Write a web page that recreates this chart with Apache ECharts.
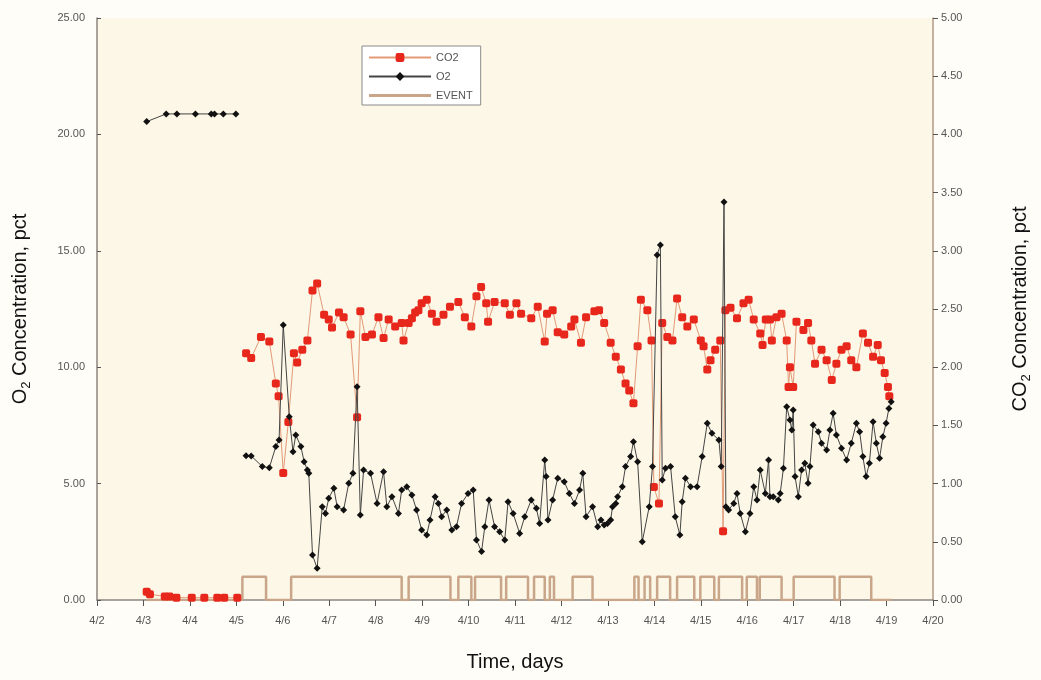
<!DOCTYPE html>
<html>
<head>
<meta charset="utf-8">
<script src="https://cdn.jsdelivr.net/npm/echarts@6/dist/echarts.min.js"></script>
<style>
html,body{margin:0;padding:0;background:#fefdf8;}
#chart{width:1041px;height:680px;}
</style>
</head>
<body>
<div id="chart"></div>
<script>
// Time in days (April day number)
var o2Data = [
[3.07,20.55],[3.49,20.88],[3.72,20.88],[4.12,20.88],[4.46,20.88],[4.53,20.88],[4.72,20.88],[4.99,20.88],
null,
[5.21,6.20],[5.32,6.19],[5.56,5.73],[5.71,5.68],[5.85,6.59],[5.92,6.87],[6.01,11.81],[6.14,7.87],[6.22,6.37],[6.28,7.09],
[6.39,6.59],[6.46,5.94],[6.53,5.58],[6.56,5.44],[6.64,1.93],[6.74,1.36],[6.85,4.01],[6.92,3.72],[6.99,4.37],[7.10,4.80],
[7.17,4.01],[7.31,3.87],[7.42,5.01],[7.51,5.44],[7.60,9.16],[7.67,3.65],[7.74,5.58],[7.89,5.44],[8.03,4.15],[8.17,5.51],
[8.24,4.01],[8.35,4.44],[8.49,3.72],[8.56,4.72],[8.67,4.87],[8.78,4.51],[8.88,3.87],[8.99,3.01],[9.10,2.79],[9.17,3.44],
[9.28,4.44],[9.35,4.15],[9.42,3.58],[9.53,3.87],[9.64,3.01],[9.74,3.15],[9.85,4.15],[9.99,4.58],[10.10,4.72],[10.17,2.58],
[10.28,2.08],[10.35,3.15],[10.44,4.30],[10.56,3.15],[10.67,2.93],[10.78,2.58],[10.85,4.22],[10.96,3.72],[11.10,2.86],
[11.21,3.58],[11.35,4.30],[11.46,3.94],[11.53,3.29],[11.64,6.01],[11.67,5.30],[11.71,3.44],[11.81,4.30],[11.92,5.23],
[12.06,5.08],[12.17,4.58],[12.28,4.15],[12.39,4.72],[12.46,5.44],[12.53,3.58],[12.67,4.01],[12.78,3.15],[12.85,3.44],
[12.92,3.22],[12.99,3.29],[13.06,3.44],[13.10,4.01],[13.17,4.15],[13.21,4.44],[13.31,4.87],[13.38,5.73],[13.49,6.16],
[13.55,6.80],[13.64,5.94],[13.74,2.50],[13.89,4.01],[13.96,5.73],[14.06,14.82],[14.13,15.25],[14.17,5.15],[14.24,5.66],
[14.35,5.73],[14.45,3.58],[14.55,2.79],[14.60,4.22],[14.67,5.23],[14.78,4.87],[14.92,4.87],[15.03,6.16],[15.14,7.59],
[15.24,7.16],[15.39,6.87],[15.44,5.73],[15.50,17.10],[15.54,4.01],[15.60,3.87],[15.71,4.15],[15.78,4.58],[15.85,3.72],
[15.96,2.93],[16.06,3.72],[16.14,4.87],[16.21,4.30],[16.28,5.58],[16.39,4.58],[16.46,6.01],[16.49,4.44],[16.56,4.44],
[16.67,4.30],[16.71,4.58],[16.78,5.66],[16.85,8.30],[16.92,7.73],[16.96,7.30],[16.99,8.16],[17.03,5.30],[17.10,4.44],
[17.17,5.58],[17.24,5.87],[17.31,5.01],[17.35,5.73],[17.42,7.52],[17.53,7.23],[17.60,6.73],[17.71,6.44],[17.78,7.30],
[17.85,8.02],[17.92,7.09],[18.03,6.52],[18.14,6.01],[18.24,6.73],[18.35,7.59],[18.42,7.23],[18.49,6.16],[18.56,5.30],
[18.63,5.87],[18.71,7.66],[18.78,6.73],[18.85,6.09],[18.92,7.01],[18.99,7.59],[19.05,8.23],[19.10,8.52]
];

var co2Data = [
[3.07,0.07],[3.14,0.05],[3.46,0.03],[3.56,0.03],[3.71,0.02],[4.04,0.02],[4.31,0.02],[4.59,0.02],[4.74,0.02],[5.02,0.02],
null,
[5.21,2.12],[5.32,2.08],[5.53,2.26],[5.71,2.22],[5.85,1.86],[5.91,1.75],[6.01,1.09],[6.12,1.53],[6.24,2.12],[6.31,2.04],
[6.42,2.15],[6.53,2.23],[6.64,2.66],[6.74,2.72],[6.89,2.45],[6.99,2.41],[7.06,2.34],[7.21,2.47],[7.31,2.43],[7.46,2.28],
[7.60,1.57],[7.67,2.48],[7.78,2.26],[7.92,2.28],[8.06,2.43],[8.17,2.25],[8.28,2.41],[8.42,2.35],[8.56,2.38],[8.60,2.23],
[8.71,2.38],[8.78,2.42],[8.85,2.47],[8.92,2.49],[8.99,2.55],[9.10,2.58],[9.21,2.46],[9.31,2.39],[9.46,2.45],[9.60,2.52],
[9.78,2.56],[9.92,2.43],[10.06,2.35],[10.17,2.61],[10.27,2.69],[10.38,2.55],[10.42,2.39],[10.56,2.56],[10.78,2.55],
[10.89,2.45],[11.03,2.55],[11.13,2.46],[11.35,2.42],[11.49,2.52],[11.64,2.22],[11.69,2.46],[11.81,2.49],[11.92,2.30],
[12.06,2.28],[12.21,2.35],[12.28,2.41],[12.42,2.21],[12.53,2.43],[12.71,2.48],[12.81,2.49],[12.92,2.38],[13.06,2.21],
[13.17,2.09],[13.28,1.98],[13.38,1.86],[13.46,1.80],[13.55,1.69],[13.64,2.18],[13.71,2.58],[13.85,2.49],[13.94,2.23],
[13.99,0.97],[14.10,0.83],[14.17,2.38],[14.28,2.26],[14.39,2.23],[14.49,2.59],[14.60,2.43],[14.71,2.35],[14.85,2.41],
[15.00,2.23],[15.06,2.18],[15.14,1.98],[15.21,2.06],[15.31,2.15],[15.42,2.23],[15.48,0.59],[15.53,2.49],[15.64,2.51],
[15.78,2.42],[15.92,2.55],[16.03,2.58],[16.14,2.41],[16.28,2.29],[16.33,2.19],[16.40,2.41],[16.49,2.41],[16.53,2.23],
[16.63,2.43],[16.74,2.46],[16.85,2.23],[16.89,1.83],[16.92,2.00],[16.99,1.83],[17.06,2.39],[17.21,2.32],[17.31,2.38],
[17.38,2.23],[17.46,2.03],[17.60,2.15],[17.71,2.06],[17.82,1.89],[17.92,2.03],[18.03,2.15],[18.14,2.18],[18.24,2.06],
[18.35,2.00],[18.49,2.29],[18.60,2.21],[18.71,2.09],[18.81,2.19],[18.88,2.06],[18.96,1.95],[19.03,1.83],[19.06,1.75]
];

// EVENT on intervals (days), level 1 on the O2 axis
var eventOn = [
[5.13,5.64],[6.18,8.56],[8.71,9.61],[9.78,10.06],[10.14,10.70],[10.81,11.28],[11.41,11.64],[11.75,11.84],
[12.24,12.67],[13.57,13.66],[13.79,13.91],[14.06,14.34],[14.49,14.86],[14.99,15.29],[15.39,15.89],
[15.99,16.21],[16.27,16.74],[17.00,17.88],[17.99,18.67]
];
var eventStart = 3.07, eventEnd = 19.1, eventLevel = 1;

var eventData = [[eventStart,0]];
eventOn.forEach(function(iv){
  eventData.push([iv[0],0],[iv[0],eventLevel],[iv[1],eventLevel],[iv[1],0]);
});
eventData.push([eventEnd,0]);

var chart = echarts.init(document.getElementById('chart'));
var font = 'Liberation Sans, Arial, sans-serif';
var richName = {
  a:{fontFamily:font,fontSize:20,color:'#111',lineHeight:26,verticalAlign:'middle'},
  s:{fontFamily:font,fontSize:13,color:'#111',lineHeight:26,verticalAlign:'bottom',padding:[10,0,0,0]}
};
chart.setOption({
  backgroundColor:'#fefdf8',
  animation:false,
  grid:{left:97,right:104,top:18,bottom:80,show:true,backgroundColor:'#fcf7e6',borderWidth:0},
  legend:{
    orient:'vertical', left:362, top:46,
    backgroundColor:'#ffffff', borderColor:'#8a8a8a', borderWidth:1,
    padding:[6,8,4,6], itemGap:8, itemWidth:62, itemHeight:11,
    textStyle:{fontFamily:font,fontSize:11,color:'#555'},
    data:['CO2','O2',{name:'EVENT',icon:'path://M0,4L62,4L62,7L0,7Z M0,0L0.05,0L0.05,11L0,11Z'}]
  },
  xAxis:{
    type:'value', min:2, max:20, interval:1,
    name:'Time, days', nameLocation:'middle', nameGap:52,
    nameTextStyle:{fontFamily:font,fontSize:20,color:'#111'},
    axisLine:{lineStyle:{color:'#8c8580',width:1.5}},
    axisTick:{show:true,length:6,lineStyle:{color:'#555'}},
    axisLabel:{fontFamily:font,fontSize:11,color:'#555',margin:15,
      formatter:function(v){return '4/'+v;}},
    splitLine:{show:false}
  },
  yAxis:[{
    type:'value', min:0, max:25, interval:5,
    name:'{a|O}{s|2}{a| Concentration, pct}', nameLocation:'middle', nameGap:64, nameRotate:90,
    nameTextStyle:{rich:richName},
    axisLine:{show:true,lineStyle:{color:'#8c8580',width:1.5}},
    axisTick:{show:true,length:4,inside:true,lineStyle:{color:'#555'}},
    axisLabel:{fontFamily:font,fontSize:11,color:'#555',margin:12,
      formatter:function(v){return v.toFixed(2);}},
    splitLine:{show:false}
  },{
    type:'value', min:0, max:5, interval:0.5, position:'right',
    name:'{a|CO}{s|2}{a| Concentration, pct}', nameLocation:'middle', nameGap:74, nameRotate:90,
    nameTextStyle:{rich:richName},
    axisLine:{show:true,lineStyle:{color:'#b09a86',width:1.5}},
    axisTick:{show:true,length:5,lineStyle:{color:'#555'}},
    axisLabel:{fontFamily:font,fontSize:11,color:'#555',margin:8,
      formatter:function(v){return v.toFixed(2);}},
    splitLine:{show:false}
  }],
  series:[{
    name:'CO2', type:'line', yAxisIndex:1, data:co2Data, connectNulls:false,
    symbol:'roundRect', symbolSize:8,
    lineStyle:{color:'#e39a78',width:1}, itemStyle:{color:'#e8271c'}, z:3
  },{
    name:'O2', type:'line', yAxisIndex:0, data:o2Data, connectNulls:false,
    symbol:'diamond', symbolSize:7,
    lineStyle:{color:'#444',width:1}, itemStyle:{color:'#111'}, z:4
  },{
    name:'EVENT', type:'line', yAxisIndex:0, data:eventData,
    symbol:'none', lineStyle:{color:'#c9a68a',width:2.5}, itemStyle:{color:'#c9a68a'}, z:1
  }]
});
</script>
</body>
</html>
